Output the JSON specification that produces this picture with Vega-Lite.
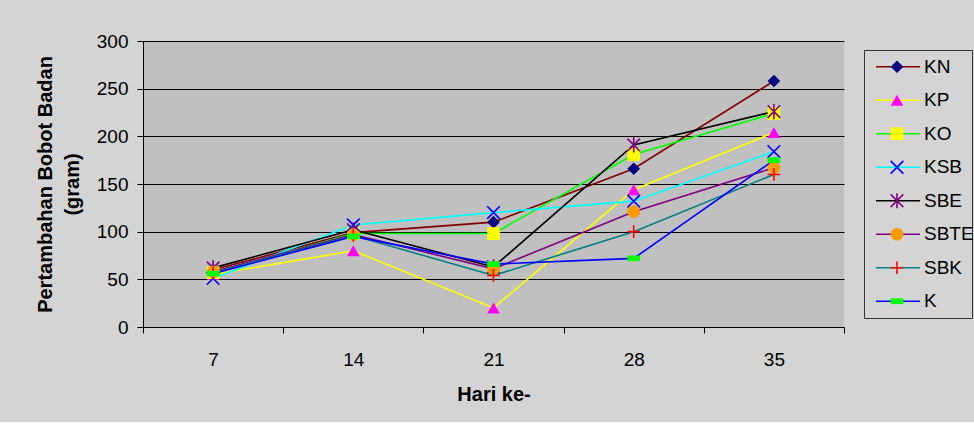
{
  "$schema": "https://vega.github.io/schema/vega-lite/v6.json",
  "background": "#D4D4D4",
  "padding": {"left": 35, "top": 32, "right": 1, "bottom": 18},
  "config": {
    "font": "Liberation Sans",
    "axis": {"labelColor": "#000000", "titleColor": "#000000", "labelFontSize": 19, "titleFontSize": 20, "titleFontWeight": "bold", "domainColor": "#000000", "tickColor": "#000000", "tickSize": 6, "labelFont": "Liberation Sans", "titleFont": "Liberation Sans"},
    "text": {"font": "Liberation Sans"}
  },
  "datasets": {
    "gain": [
      {"series": "KN", "day": 7, "value": 60}, {"series": "KN", "day": 14, "value": 99}, {"series": "KN", "day": 21, "value": 110}, {"series": "KN", "day": 28, "value": 166}, {"series": "KN", "day": 35, "value": 258},
      {"series": "KP", "day": 7, "value": 55}, {"series": "KP", "day": 14, "value": 80}, {"series": "KP", "day": 21, "value": 20}, {"series": "KP", "day": 28, "value": 144}, {"series": "KP", "day": 35, "value": 204},
      {"series": "KO", "day": 7, "value": 57}, {"series": "KO", "day": 14, "value": 98}, {"series": "KO", "day": 21, "value": 98}, {"series": "KO", "day": 28, "value": 181}, {"series": "KO", "day": 35, "value": 224},
      {"series": "KSB", "day": 7, "value": 51}, {"series": "KSB", "day": 14, "value": 107}, {"series": "KSB", "day": 21, "value": 120}, {"series": "KSB", "day": 28, "value": 132}, {"series": "KSB", "day": 35, "value": 184},
      {"series": "SBE", "day": 7, "value": 62}, {"series": "SBE", "day": 14, "value": 102}, {"series": "SBE", "day": 21, "value": 63}, {"series": "SBE", "day": 28, "value": 191}, {"series": "SBE", "day": 35, "value": 226},
      {"series": "SBTE", "day": 7, "value": 58}, {"series": "SBTE", "day": 14, "value": 97}, {"series": "SBTE", "day": 21, "value": 61}, {"series": "SBTE", "day": 28, "value": 121}, {"series": "SBTE", "day": 35, "value": 167},
      {"series": "SBK", "day": 7, "value": 57}, {"series": "SBK", "day": 14, "value": 96}, {"series": "SBK", "day": 21, "value": 54}, {"series": "SBK", "day": 28, "value": 100}, {"series": "SBK", "day": 35, "value": 160},
      {"series": "K", "day": 7, "value": 56}, {"series": "K", "day": 14, "value": 95}, {"series": "K", "day": 21, "value": 66}, {"series": "K", "day": 28, "value": 72}, {"series": "K", "day": 35, "value": 175}
    ]
  },
  "bounds": "flush",
  "center": true,
  "spacing": 20,
  "hconcat": [
    {
      "width": 701,
      "height": 286,
      "view": {"fill": "#C0C0C0", "stroke": null},
      "data": {"name": "gain"},
      "encoding": {
        "x": {"field": "day", "type": "ordinal", "scale": {"type": "band", "domain": [7, 14, 21, 28, 35], "paddingInner": 0, "paddingOuter": 0},
              "axis": {"title": "Hari ke-", "labelAngle": 0, "tickBand": "extent", "grid": false, "labelPadding": 17, "titlePadding": 15}},
        "y": {"field": "value", "type": "quantitative", "scale": {"domain": [0, 300], "nice": false},
              "axis": {"title": ["Pertambahan Bobot Badan", "(gram)"], "values": [0, 50, 100, 150, 200, 250, 300], "grid": true, "gridColor": "#000000", "gridWidth": 1, "labelPadding": 9, "titlePadding": 14, "titleLineHeight": 27}}
      },
      "layer": [
        {
          "mark": {"type": "line", "strokeWidth": 1.6},
          "encoding": {
            "color": {"field": "series", "type": "nominal", "scale": {"domain": ["KN", "KP", "KO", "KSB", "SBE", "SBTE", "SBK", "K"], "range": ["#800000", "#FFFF00", "#00FF00", "#00FFFF", "#000000", "#800080", "#008080", "#0000FF"]}, "legend": null},
            "order": {"field": "day", "type": "quantitative"}
          }
        },
        {
          "mark": {"type": "point", "filled": true, "opacity": 1, "strokeWidth": 1.6},
          "encoding": {
            "shape": {"field": "series", "type": "nominal", "scale": {"domain": ["KN", "KP", "KO", "KSB", "SBE", "SBTE", "SBK", "K"], "range": ["diamond", "triangle-up", "square", "M-1,-1L1,1M-1,1L1,-1", "M-1,-1L1,1M-1,1L1,-1M0,-1.2L0,1.2", "circle", "M-1,0L1,0M0,-1L0,1", "M-1,-0.45L1,-0.45L1,0.45L-1,0.45Z"]}, "legend": null},
            "fill": {"field": "series", "type": "nominal", "scale": {"domain": ["KN", "KP", "KO", "KSB", "SBE", "SBTE", "SBK", "K"], "range": ["#000080", "#FF00FF", "#FFFF00", "transparent", "transparent", "#FF9900", "transparent", "#00FF00"]}, "legend": null},
            "stroke": {"field": "series", "type": "nominal", "scale": {"domain": ["KN", "KP", "KO", "KSB", "SBE", "SBTE", "SBK", "K"], "range": ["transparent", "transparent", "transparent", "#0000FF", "#800080", "transparent", "#FF0000", "transparent"]}, "legend": null},
            "size": {"field": "series", "type": "nominal", "scale": {"domain": ["KN", "KP", "KO", "KSB", "SBE", "SBTE", "SBK", "K"], "range": [160, 160, 95, 120, 120, 81, 140, 42]}, "legend": null}
          }
        }
      ]
    },
    {
      "width": 108,
      "height": 268,
      "view": {"fill": null, "stroke": "#333333", "strokeWidth": 1},
      "data": {"name": "gain"},
      "transform": [{"filter": "datum.day == 7"}],
      "encoding": {
        "y": {"field": "series", "type": "nominal", "scale": {"type": "point", "domain": ["KN", "KP", "KO", "KSB", "SBE", "SBTE", "SBK", "K"], "padding": 0.5}, "axis": null}
      },
      "layer": [
        {
          "mark": {"type": "rule", "strokeWidth": 1.6},
          "encoding": {
            "x": {"datum": 12, "type": "quantitative", "scale": {"domain": [0, 108], "nice": false, "zero": false}, "axis": null},
            "x2": {"datum": 56},
            "color": {"field": "series", "type": "nominal", "legend": null}
          }
        },
        {
          "mark": {"type": "point", "filled": true, "opacity": 1, "strokeWidth": 1.6},
          "encoding": {
            "x": {"datum": 33, "type": "quantitative"},
            "shape": {"field": "series", "type": "nominal", "legend": null},
            "fill": {"field": "series", "type": "nominal", "legend": null},
            "stroke": {"field": "series", "type": "nominal", "legend": null},
            "size": {"field": "series", "type": "nominal", "legend": null}
          }
        },
        {
          "mark": {"type": "text", "align": "left", "baseline": "middle", "fontSize": 19, "color": "#000000"},
          "encoding": {
            "x": {"datum": 60, "type": "quantitative"},
            "text": {"field": "series", "type": "nominal"}
          }
        }
      ]
    }
  ]
}
